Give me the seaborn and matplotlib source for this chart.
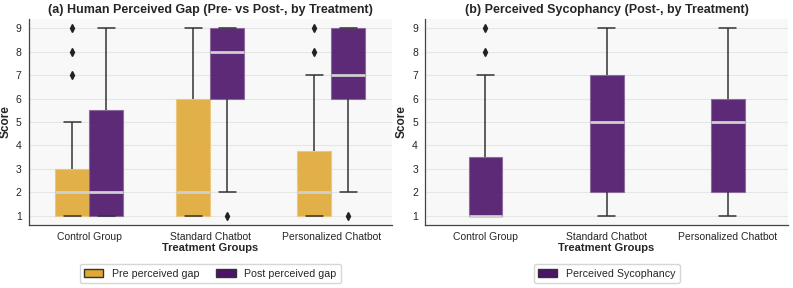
import pandas as pd
import matplotlib.pyplot as plt
import seaborn as sns
from matplotlib.patches import Patch

# Scores per treatment group (1-9 scale)
groups = ['Control Group', 'Standard Chatbot', 'Personalized Chatbot']

pre_gap = {
    'Control Group': [1, 1, 1, 1, 1, 2, 2, 2, 2, 2, 3, 3, 3, 5, 7, 8, 9],
    'Standard Chatbot': [1, 1, 1, 2, 2, 4, 6, 7, 9],
    'Personalized Chatbot': [1, 1, 1, 1, 1, 2, 2, 2, 2, 3, 4, 7, 8, 9],
}
post_gap = {
    'Control Group': [1, 1, 1, 1, 2, 2, 2, 5, 6, 8, 9],
    'Standard Chatbot': [1, 2, 6, 6, 8, 8, 9, 9, 9],
    'Personalized Chatbot': [1, 2, 6, 6, 7, 8, 9, 9, 9],
}
sycophancy = {
    'Control Group': [1, 1, 1, 1, 1, 1, 1, 1, 2, 2, 3, 4, 7, 8, 9],
    'Standard Chatbot': [1, 2, 2, 4, 5, 6, 7, 8, 9],
    'Personalized Chatbot': [1, 2, 2, 4, 5, 5, 6, 8, 9],
}

gold = '#E0A836'
purple = '#4B1369'

# Long format tables
rows = []
for g in groups:
    rows += [(g, 'Pre perceived gap', v) for v in pre_gap[g]]
    rows += [(g, 'Post perceived gap', v) for v in post_gap[g]]
gap_df = pd.DataFrame(rows, columns=['Group', 'Measure', 'Score'])

syc_df = pd.DataFrame([(g, v) for g in groups for v in sycophancy[g]],
                      columns=['Group', 'Score'])

sns.set_style('whitegrid')
plt.rcParams['font.family'] = ['Liberation Sans', 'DejaVu Sans']

fig, (ax1, ax2) = plt.subplots(1, 2, figsize=(7.93, 2.88), dpi=100)
fig.subplots_adjust(left=0.036, right=0.994, wspace=0.091, top=0.934, bottom=0.219)

common = dict(
    saturation=1,
    linecolor='#333333',
    linewidth=1.1,
    medianprops={'color': '#CFCFCF', 'linewidth': 2},
    flierprops={'marker': 'd', 'markerfacecolor': '#222222',
                'markeredgecolor': '#222222', 'markersize': 4},
    boxprops={'alpha': 0.9},
)

sns.boxplot(data=gap_df, x='Group', y='Score', hue='Measure', order=groups,
            hue_order=['Pre perceived gap', 'Post perceived gap'],
            palette=[gold, purple], width=0.56, ax=ax1, **common)
sns.boxplot(data=syc_df, x='Group', y='Score', order=groups, color=purple,
            width=0.28, ax=ax2, **common)

for ax, title in [(ax1, '(a) Human Perceived Gap (Pre- vs Post-, by Treatment)'),
                  (ax2, '(b) Perceived Sycophancy (Post-, by Treatment)')]:
    ax.set_facecolor('#F8F8F8')
    ax.grid(axis='y', color='#E6E6E6', linewidth=0.8)
    ax.grid(axis='x', visible=False)
    ax.set_axisbelow(True)
    sns.despine(ax=ax)
    for s in ['left', 'bottom']:
        ax.spines[s].set_color('#444444')
        ax.spines[s].set_linewidth(0.9)
    ax.tick_params(axis='both', length=3, color='#444444', labelsize=7.5, pad=2)
    ax.set_yticks(range(1, 10))
    ax.set_title(title, fontsize=9, fontweight='bold', pad=4)
    ax.set_xlabel('Treatment Groups', fontsize=8, fontweight='bold', labelpad=1)
    ax.set_ylabel('Score', fontsize=8.5, fontweight='bold', labelpad=3)
    for p in ax.patches:
        r, g, b, _ = p.get_facecolor()
        p.set_edgecolor((r + (1 - r) * 0.35, g + (1 - g) * 0.35, b + (1 - b) * 0.35))
        p.set_linewidth(0.8)

leg_kw = dict(loc='upper center', bbox_to_anchor=(0.5, -0.165), fontsize=7.7,
              frameon=True, handlelength=1.8, columnspacing=1.6)
ax1.legend(handles=[Patch(facecolor=gold, edgecolor='#333333', label='Pre perceived gap'),
                    Patch(facecolor=purple, edgecolor='#333333', label='Post perceived gap')],
           ncol=2, **leg_kw)
ax2.legend(handles=[Patch(facecolor=purple, edgecolor='#333333', label='Perceived Sycophancy')],
           ncol=1, **leg_kw)

fig.savefig('out.png', dpi=100)
